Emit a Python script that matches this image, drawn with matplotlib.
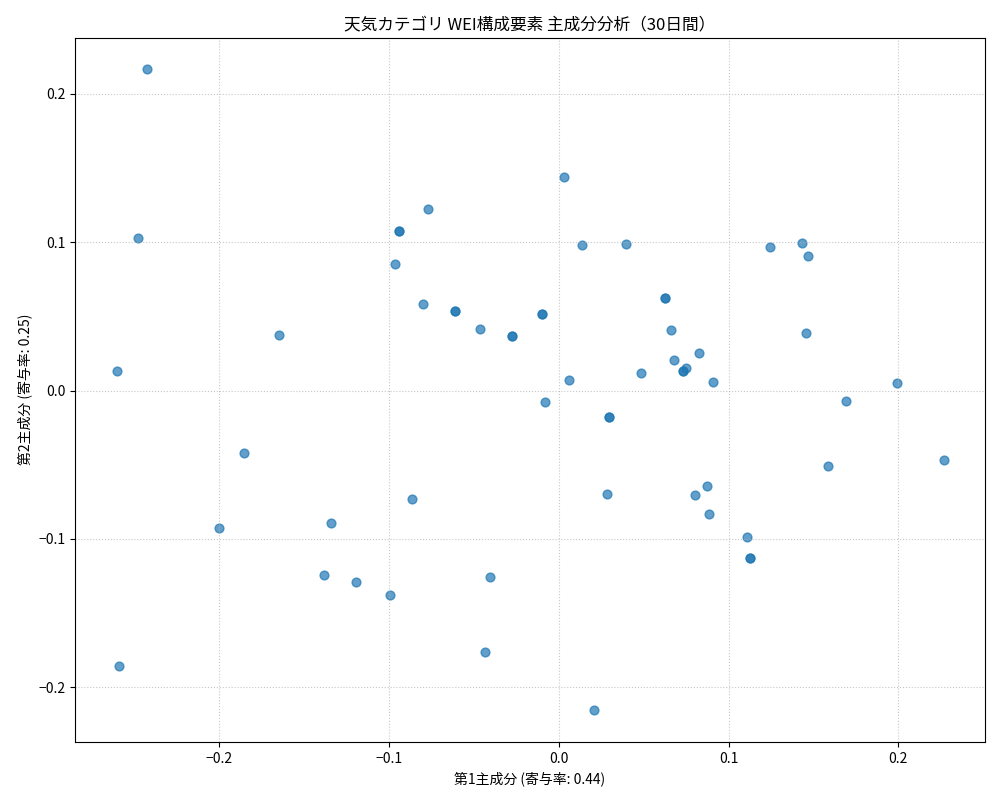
import matplotlib
matplotlib.use("Agg")
import matplotlib.pyplot as plt

plt.rcParams['font.family'] = ['Noto Sans CJK JP', 'DejaVu Sans']
plt.rcParams['axes.unicode_minus'] = True

pc1 = [-0.2424, -0.2478, -0.2600, -0.2589, -0.1853, -0.2000, -0.1647, -0.1340, -0.1381, -0.1193,
       -0.0993, -0.0863, -0.0940, -0.0940, -0.0963, -0.0769, -0.0798, -0.0610, -0.0610, -0.0462,
       -0.0274, -0.0274, -0.0097, -0.0097, -0.0080, -0.0403, -0.0433, 0.0032, 0.0139, 0.0062,
       0.0297, 0.0297, 0.0286, 0.0209, 0.0398, 0.0486, 0.0627, 0.0627, 0.0663, 0.0680,
       0.0733, 0.0733, 0.0751, 0.0827, 0.0910, 0.0804, 0.0875, 0.0887, 0.1111, 0.1123,
       0.1123, 0.1241, 0.1435, 0.1470, 0.1458, 0.1694, 0.1588, 0.1989, 0.2271]
pc2 = [0.2168, 0.1029, 0.0132, -0.1858, -0.0422, -0.0927, 0.0374, -0.0894, -0.1245, -0.1292,
       -0.1379, -0.0732, 0.1076, 0.1076, 0.0853, 0.1225, 0.0583, 0.0536, 0.0536, 0.0415,
       0.0368, 0.0368, 0.0516, 0.0516, -0.0078, -0.1258, -0.1764, 0.1440, 0.0981, 0.0071,
       -0.0179, -0.0179, -0.0698, -0.2155, 0.0988, 0.0118, 0.0624, 0.0624, 0.0408, 0.0206,
       0.0132, 0.0132, 0.0152, 0.0253, 0.0057, -0.0705, -0.0644, -0.0833, -0.0988, -0.1130,
       -0.1130, 0.0968, 0.0995, 0.0907, 0.0388, -0.0071, -0.0509, 0.0051, -0.0469]

fig, ax = plt.subplots(figsize=(10, 8), dpi=100)
ax.scatter(pc1, pc2, color='#1f77b4', alpha=0.7, s=40)
ax.set_xlim(-0.285, 0.251)
ax.set_ylim(-0.237, 0.238)
ax.set_title('天気カテゴリ WEI構成要素 主成分分析（30日間）')
ax.set_xlabel('第1主成分 (寄与率: 0.44)')
ax.set_ylabel('第2主成分 (寄与率: 0.25)')
ax.grid(True, linestyle=':', alpha=0.7)
fig.subplots_adjust(left=0.075, right=0.985, top=0.953, bottom=0.0725)
fig.savefig('out.png')
